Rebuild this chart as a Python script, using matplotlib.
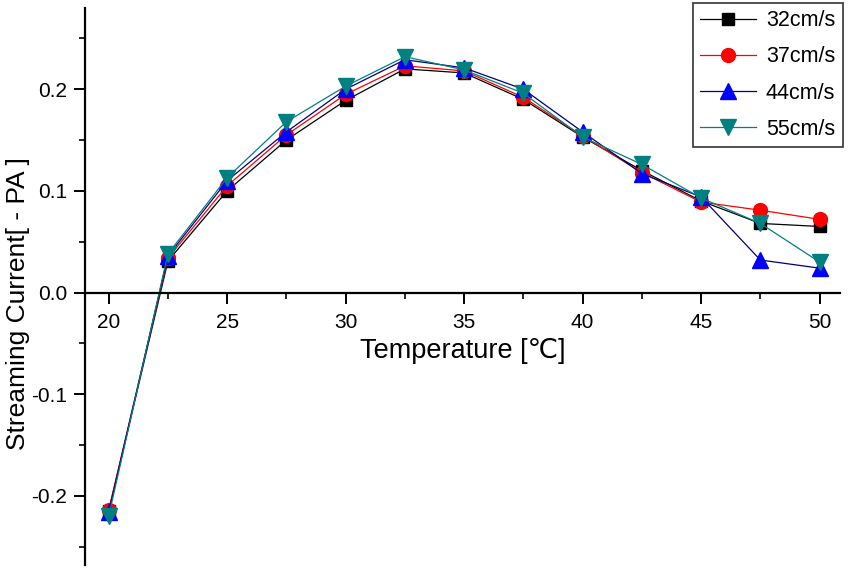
import numpy as np
import matplotlib.pyplot as plt
from matplotlib.ticker import MultipleLocator

plt.rcParams['font.family'] = ['Liberation Sans', 'DejaVu Sans']

# data
temp = [20, 22.5, 25, 27.5, 30, 32.5, 35, 37.5, 40, 42.5, 45, 47.5, 50]
v32 = [-0.215, 0.031, 0.100, 0.150, 0.189, 0.220, 0.216, 0.190, 0.153, 0.120, 0.090, 0.068, 0.065]
v37 = [-0.214, 0.034, 0.105, 0.155, 0.195, 0.223, 0.218, 0.192, 0.154, 0.118, 0.089, 0.081, 0.072]
v44 = [-0.216, 0.036, 0.110, 0.158, 0.200, 0.229, 0.221, 0.200, 0.158, 0.117, 0.094, 0.032, 0.024]
v55 = [-0.220, 0.038, 0.113, 0.168, 0.203, 0.232, 0.219, 0.196, 0.153, 0.126, 0.093, 0.068, 0.030]
labels = ['32cm/s', '37cm/s', '44cm/s', '55cm/s']

fig = plt.figure(figsize=(8.49, 5.72), dpi=100)
ax = fig.add_axes([0.1001, 0.0122, 0.889, 0.974])

ax.plot(temp, v32, color='black', lw=0.9, marker='s', ms=9, mfc='black', mec='black', label=labels[0])
ax.plot(temp, v37, color='red', lw=0.9, marker='o', ms=10, mfc='red', mec='red', label=labels[1])
ax.plot(temp, v44, color='#000080', lw=0.9, marker='^', ms=11, mfc='blue', mec='blue', label=labels[2])
ax.plot(temp, v55, color='#008080', lw=0.9, marker='v', ms=11, mfc='#008080', mec='#008080', label=labels[3])

ax.set_xlim(19.0, 50.85)
ax.set_ylim(-0.268, 0.28)

ax.spines['top'].set_visible(False)
ax.spines['right'].set_visible(False)
ax.spines['bottom'].set_position(('data', 0))
ax.spines['left'].set_linewidth(1.6)
ax.spines['bottom'].set_linewidth(1.6)

ax.xaxis.set_major_locator(MultipleLocator(5))
ax.xaxis.set_minor_locator(MultipleLocator(2.5))
ax.yaxis.set_minor_locator(MultipleLocator(0.05))
ax.set_yticks([-0.2, -0.1, 0.0, 0.1, 0.2])
ax.set_yticklabels(['-0.2', '-0.1', '0.0', '0.1', '0.2'])
ax.tick_params(which='major', direction='out', length=8, width=1.4, labelsize=15)
ax.tick_params(axis='x', which='major', pad=7)
ax.tick_params(axis='y', which='major', pad=5)
ax.tick_params(which='minor', direction='out', length=4.5, width=1.2)

ax.set_xlabel('Temperature [\u2103]', fontsize=19.5, labelpad=4)
ax.set_ylabel('Streaming Current[ - PA ]', fontsize=19)
ax.yaxis.set_label_coords(-0.073, 0.47)

leg = ax.legend(loc='upper right', bbox_to_anchor=(1.004, 1.009), fontsize=15.5, frameon=True,
                fancybox=False, edgecolor='black', handlelength=2.6, borderpad=0.35,
                labelspacing=0.7, handletextpad=0.45, borderaxespad=0)
leg.get_frame().set_linewidth(1.2)

fig.savefig('out.png', dpi=100)
